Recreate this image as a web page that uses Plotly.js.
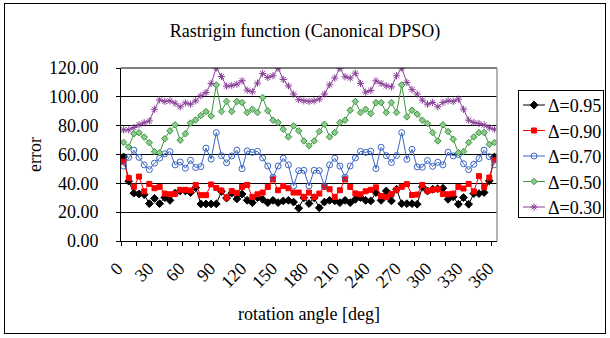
<!DOCTYPE html>
<html>
<head>
<meta charset="utf-8">
<script src="https://cdn.plot.ly/plotly-3.0.1.min.js"></script>
<style>
  html, body { margin: 0; padding: 0; background: #fff; }
  #wrap { position: relative; width: 610px; height: 338px; }
  #chart { width: 610px; height: 338px; }
  #frame { position: absolute; left: 4px; top: 3px; width: 600px; height: 329px; border: 1px solid #000; pointer-events: none; }
</style>
</head>
<body>
<div id="wrap">
  <div id="chart"></div>
  <div id="frame"></div>
</div>
<script>
const angles = [0,5,10,15,20,25,30,35,40,45,50,55,60,65,70,75,80,85,90,95,100,105,110,115,120,125,130,135,140,145,150,155,160,165,170,175,180,185,190,195,200,205,210,215,220,225,230,235,240,245,250,255,260,265,270,275,280,285,290,295,300,305,310,315,320,325,330,335,340,345,350,355,360];

const seriesNames = ['\u0394=0.95', '\u0394=0.90', '\u0394=0.70', '\u0394=0.50', '\u0394=0.30'];

const d095 = [58.3,41.5,33.2,32.6,32.2,25.9,29.6,25.9,30.1,28.2,33.2,34.7,34.7,33.6,37.0,25.7,25.7,25.7,25.7,34.4,29.8,33.2,29.2,32.6,28.2,26.6,30.1,28.9,26.6,28.2,26.6,27.8,28.2,27.0,22.7,30.0,26.0,30.0,23.0,27.0,28.2,27.8,26.6,28.2,26.6,28.9,30.1,28.2,27.8,33.6,28.2,34.7,27.8,35.9,25.9,25.9,25.9,25.5,37.5,34.7,35.9,36.3,36.6,28.9,30.6,25.5,30.1,25.5,32.9,32.9,33.6,41.7,58.3];

const d090 = [55.0,43.8,37.6,44.7,34.4,39.6,36.6,37.5,32.9,32.4,32.7,35.5,35.5,35.0,38.9,31.8,31.8,39.2,36.8,35.0,30.1,34.7,33.4,37.5,38.9,30.6,32.4,33.6,37.5,42.8,35.2,38.2,36.6,33.6,33.6,30.6,33.6,30.6,32.9,37.5,35.9,30.6,35.2,42.8,37.5,33.0,32.4,34.5,35.5,37.2,31.2,30.5,32.6,35.5,37.6,39.4,31.9,32.2,38.9,34.7,35.5,36.0,32.6,32.4,32.9,37.5,36.4,39.6,34.4,45.0,37.4,44.0,56.0];

const d070 = [52.0,58.0,63.0,58.0,52.8,49.5,54.0,57.5,60.5,62.0,52.8,54.8,50.5,56.0,51.0,51.6,64.4,56.8,75.2,59.2,54.2,59.0,63.0,50.2,62.5,61.5,62.2,57.6,52.0,44.2,52.0,57.4,52.8,38.2,48.8,49.0,38.2,49.0,48.8,38.2,52.8,57.4,52.0,44.2,52.0,57.6,62.2,61.5,62.3,50.2,65.0,59.2,54.4,59.3,75.2,56.6,63.6,51.4,51.2,55.8,51.8,54.6,52.8,61.6,59.0,60.0,53.6,49.5,53.2,57.2,63.0,58.5,53.0];

const d050 = [68.4,65.2,74.4,75.1,72.1,68.2,62.0,61.2,71.0,76.4,80.6,69.9,74.4,81.8,84.0,87.0,89.8,86.7,108.3,89.8,96.8,89.8,96.8,96.0,89.1,91.4,89.1,99.5,90.3,83.8,82.2,77.5,72.2,79.9,76.4,69.4,66.0,69.4,75.9,81.0,72.2,75.2,82.2,83.8,90.7,96.8,89.1,91.4,88.4,96.0,96.0,89.1,96.0,89.1,108.3,86.1,90.7,88.0,83.8,81.5,75.2,69.4,80.6,75.9,70.6,61.3,62.0,68.3,72.2,75.2,75.2,67.0,68.3];

const d030 = [77.1,77.1,78.7,80.6,82.0,83.3,91.4,97.9,96.8,97.2,95.6,93.1,95.8,94.9,97.2,100.7,103.0,109.3,120.0,114.1,107.4,107.9,108.8,111.2,104.6,103.5,109.5,116.2,113.4,114.6,119.9,112.0,107.6,101.9,98.0,97.2,96.8,97.2,98.4,101.9,108.3,113.0,119.9,113.9,113.0,116.4,109.3,103.2,104.4,111.1,109.3,107.6,106.9,114.6,120.0,110.0,105.0,101.9,97.7,94.9,96.1,93.1,96.1,97.2,96.8,98.4,91.4,83.8,82.2,81.5,80.5,78.5,77.5];

const labelAngles = angles.filter((a, i) => i % 6 === 0);
const boundaryTicks = angles.filter((a, i) => i % 3 === 0).map(a => a - 2.5);

const FONT = '"Liberation Serif", "Times New Roman", serif';

const styles = [
  {color: '#000000', symbol: 'diamond', size: 6, fill: '#000000'},
  {color: '#FF0000', symbol: 'square', size: 5, fill: '#FF0000'},
  {color: '#3A66C2', symbol: 'circle-open', size: 6, fill: '#3A66C2'},
  {color: '#3C963F', symbol: 'diamond', size: 5, fill: '#8CC98C'},
  {color: '#8B3F99', symbol: 'asterisk-open', size: 6, fill: '#8B3F99'}
];
const allData = [d095, d090, d070, d050, d030];

const traces = allData.map((vals, k) => ({
  type: 'scatter',
  mode: 'lines+markers',
  name: seriesNames[k],
  x: angles,
  y: vals,
  line: {color: styles[k].color, width: 1},
  marker: {
    symbol: styles[k].symbol,
    size: styles[k].size,
    color: styles[k].fill,
    line: {color: styles[k].color, width: 1}
  }
}));

const layout = {
  width: 610,
  height: 338,
  margin: {l: 121, r: 98, t: 68, b: 97},
  paper_bgcolor: '#ffffff',
  plot_bgcolor: '#ffffff',
  font: {family: FONT, size: 18, color: '#000'},
  showlegend: true,
  title: {
    text: 'Rastrigin function (Canonical DPSO)',
    font: {family: FONT, size: 18, color: '#000'},
    x: 0.5, xref: 'container', xanchor: 'center',
    y: 1 - 31 / 338, yref: 'container', yanchor: 'middle'
  },
  xaxis: {
    range: [-2.5, 362.5],
    tickmode: 'array',
    tickvals: labelAngles,
    ticktext: labelAngles.map(String),
    tickangle: -45,
    ticks: '',
    ticklabelstandoff: 9,
    ticklabelshift: -6,
    showgrid: false,
    zeroline: false,
    showline: true,
    linecolor: '#000',
    linewidth: 1,
    tickfont: {family: FONT, size: 18, color: '#000'},
    minor: {tickmode: 'array', tickvals: boundaryTicks, ticks: 'outside', ticklen: 4, tickcolor: '#000', tickwidth: 1, showgrid: false},
    title: {text: 'rotation angle [deg]', font: {family: FONT, size: 18, color: '#000'}, standoff: 16},
    automargin: false
  },
  yaxis: {
    range: [0, 120],
    tick0: 0,
    dtick: 20,
    tickformat: '.2f',
    ticks: 'outside',
    ticklen: 4,
    tickcolor: '#000',
    ticklabelstandoff: 14,
    showgrid: true,
    gridcolor: '#000',
    gridwidth: 1,
    zeroline: false,
    showline: true,
    linecolor: '#000',
    linewidth: 1,
    tickfont: {family: FONT, size: 18, color: '#000'},
    title: {text: 'error', font: {family: FONT, size: 18, color: '#000'}, standoff: 2},
    automargin: false
  },
  legend: {
    x: 1.0,
    xanchor: 'left',
    y: (241 - 90) / 173,
    yanchor: 'top',
    bgcolor: '#ffffff',
    bordercolor: '#000',
    borderwidth: 1,
    font: {family: FONT, size: 18, color: '#000'},
    itemwidth: 30,
    tracegroupgap: 0
  },
  shapes: [
    {type: 'line', xref: 'paper', yref: 'paper', x0: 0, x1: 1, y0: 1, y1: 1, line: {color: '#000', width: 1}},
    {type: 'line', xref: 'paper', yref: 'paper', x0: 1, x1: 1, y0: 0, y1: 1, line: {color: '#999', width: 1.5}}
  ]
};

// Compact the legend box to match the reference's narrow Excel-style legend.
function compactLegend(gd) {
  try {
    const leg = gd.querySelector('g.legend');
    if (!leg) return;
    const LEFT = 518, TOP = 90, W = 86, H = 128;
    leg.setAttribute('transform', 'translate(' + LEFT + ',' + TOP + ')');
    const bg = leg.querySelector('rect.bg');
    if (bg) { bg.setAttribute('width', W - 1); bg.setAttribute('height', H - 1); }
    const clip = document.querySelectorAll('clipPath[id^="legend"] rect, clipPath[class*="legend"] rect');
    clip.forEach(r => { r.setAttribute('width', W); r.setAttribute('height', H); });
    const items = leg.querySelectorAll('g.traces');
    const centers = [15, 40.5, 66, 91.5, 117];
    items.forEach((g, k) => {
      g.setAttribute('transform', 'translate(1,' + centers[k] + ')');
      const txt = g.querySelector('text.legendtext');
      if (txt) {
        txt.setAttribute('x', 29);
        txt.querySelectorAll('tspan').forEach(t => { if (t.hasAttribute('x')) t.setAttribute('x', 29); });
      }
      g.querySelectorAll('.legendlines path').forEach(p => p.setAttribute('d', 'M4,0h22'));
      g.querySelectorAll('.legendpoints path').forEach(p => p.setAttribute('transform', 'translate(15,0)'));
      const tog = g.querySelector('rect.legendtoggle');
      if (tog) tog.setAttribute('width', W - 2);
    });
  } catch (e) { /* keep default legend */ }
}

Plotly.newPlot('chart', traces, layout, {displayModeBar: false, staticPlot: true})
  .then(gd => compactLegend(gd));
</script>
</body>
</html>
